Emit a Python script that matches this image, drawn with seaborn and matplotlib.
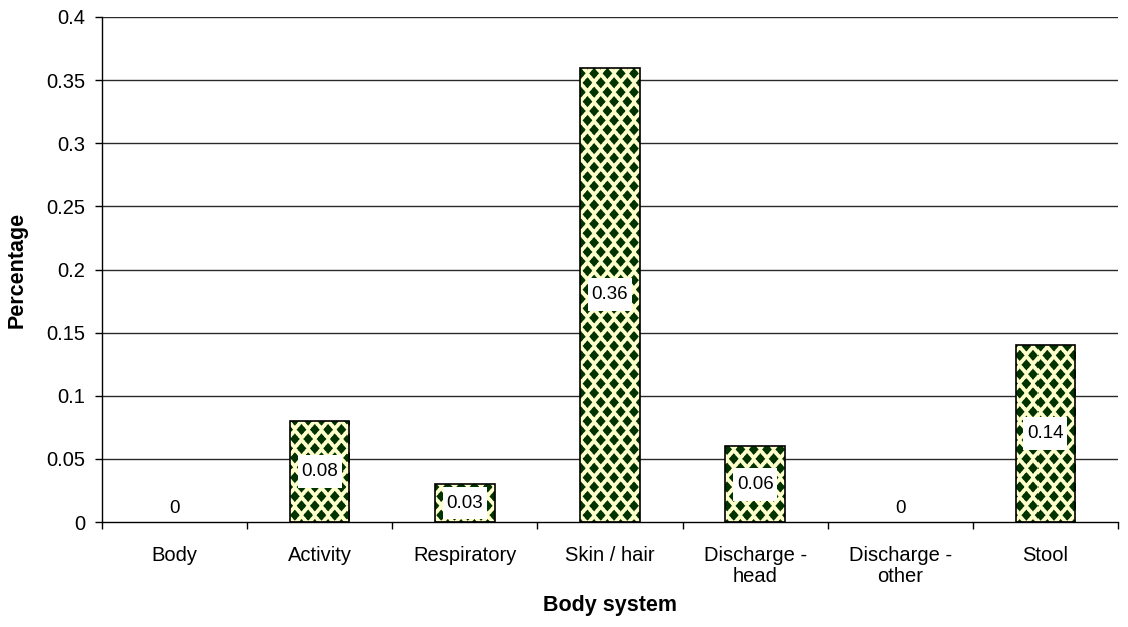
import numpy as np
import matplotlib
matplotlib.use("Agg")
import matplotlib.pyplot as plt
from matplotlib.path import Path
import seaborn as sns

# Share of findings per body system
systems = ["Body", "Activity", "Respiratory", "Skin / hair",
           "Discharge -\nhead", "Discharge -\nother", "Stool"]
percentages = [0.0, 0.08, 0.03, 0.36, 0.06, 0.0, 0.14]
y_ticks = [0, 0.05, 0.1, 0.15, 0.2, 0.25, 0.3, 0.35, 0.4]
y_tick_labels = ["0", "0.05", "0.1", "0.15", "0.2", "0.25", "0.3", "0.35", "0.4"]

sns.set_theme(style="white")
plt.rcParams["font.family"] = ["Liberation Sans", "DejaVu Sans"]

W, H, DPI = 1128, 627, 100
fig = plt.figure(figsize=(W / DPI, H / DPI), dpi=DPI)
left, right, top, bottom = 102, 1118, 17, 522
ax = fig.add_axes([left / W, 1 - bottom / H, (right - left) / W, (bottom - top) / H])

sns.barplot(x=systems, y=percentages, width=0.41, color="white", ax=ax,
            saturation=1, zorder=3)

# Bars are outlined only; the diamond texture is drawn beneath, clipped to each bar
for p, v in zip(ax.patches, percentages):
    p.set_facecolor("none")
    p.set_edgecolor("black" if v > 0 else "none")
    p.set_linewidth(1.2)
    p.set_zorder(4)

# Diamond texture in screen pixels (dark green diamonds on pale yellow),
# rendered at 3x and averaged down for smooth edges
aw, ah = right - left, bottom - top
ss = 3
yy, xx = (np.mgrid[0:ah * ss, 0:aw * ss].astype(float) + 0.5) / ss
cx, ry = 13.3, 9.4          # column pitch, row spacing (rows alternate by half a pitch)
hx, hy, pw = 4.9, 5.6, 1.0  # diamond half-width, half-height, roundness


def shape_metric(x, y):
    dx = np.mod(x, cx) - cx / 2
    dy = np.mod(y, 2 * ry) - ry
    return ((np.abs(dx) / hx) ** pw + (np.abs(dy) / hy) ** pw) ** (1 / pw)


m = np.minimum(shape_metric(xx, yy), shape_metric(xx + cx / 2, yy + ry))
alpha = (m < 1).astype(float)
alpha = alpha.reshape(ah, ss, aw, ss).mean(axis=(1, 3))[..., None]
light = np.array([1.0, 1.0, 0.80])
dark = np.array([0.0, 0.20, 0.0])
texture = alpha * dark + (1 - alpha) * light

for p in list(ax.patches):
    im = ax.imshow(texture, extent=(0, 1, 0, 1), transform=ax.transAxes,
                   aspect="auto", interpolation="nearest", zorder=3)
    im.set_clip_path(p)

ax.set_xlim(-0.5, len(systems) - 0.5)
ax.set_ylim(0, 0.4)
ax.set_yticks(y_ticks)
ax.set_yticklabels(y_tick_labels)

# Horizontal gridlines
for yv in y_ticks[1:]:
    ax.axhline(yv, color="#2a2a2a", lw=1.0, zorder=1)

for s in ["top", "right"]:
    ax.spines[s].set_visible(False)
for s in ["left", "bottom"]:
    ax.spines[s].set_color("black")
    ax.spines[s].set_linewidth(1.0)
    ax.spines[s].set_zorder(5)

ax.tick_params(axis="y", which="major", direction="out", length=5, width=1,
               color="black", pad=7, labelsize=14.5, labelcolor="black", left=True)
ax.tick_params(axis="x", which="major", length=0, pad=17, labelsize=14.5,
               labelcolor="black", bottom=True)
ax.set_xticks(np.arange(-0.5, len(systems)), minor=True)
ax.tick_params(axis="x", which="minor", direction="out", length=5, width=1,
               color="black", bottom=True)
for t in ax.get_xticklabels():
    t.set_linespacing(1.15)


def label_box(x0, y0, width, height, mutation_size):
    # white plate, taller padding than side padding
    px, py = 0.2 * mutation_size, 0.42 * mutation_size
    x0, y0 = x0 - px, y0 - py
    x1, y1 = x0 + width + 2 * px, y0 + height + 2 * py
    return Path([(x0, y0), (x1, y0), (x1, y1), (x0, y1), (x0, y0)], closed=True)


# Value labels centred in each bar
for i, v in enumerate(percentages):
    label = f"{v:g}"
    if v == 0:
        ax.annotate(label, (i, 0), xytext=(0, 10), textcoords="offset points",
                    ha="center", va="center", fontsize=13.5, color="black", zorder=6)
    else:
        ax.annotate(label, (i, v / 2), ha="center", va="center", fontsize=13.5,
                    color="black", zorder=6,
                    bbox=dict(boxstyle=label_box, fc="white", ec="none"))

ax.set_xlabel("Body system", fontsize=15.5, fontweight="bold", color="black")
ax.set_ylabel("Percentage", fontsize=15.5, fontweight="bold", color="black")
ax.xaxis.set_label_coords(0.5, (bottom - 605) / ah)
ax.xaxis.label.set_va("center")
ax.yaxis.set_label_coords((17 - left) / aw, 0.5)
ax.yaxis.label.set_va("center")

fig.savefig("out.png", dpi=DPI)
